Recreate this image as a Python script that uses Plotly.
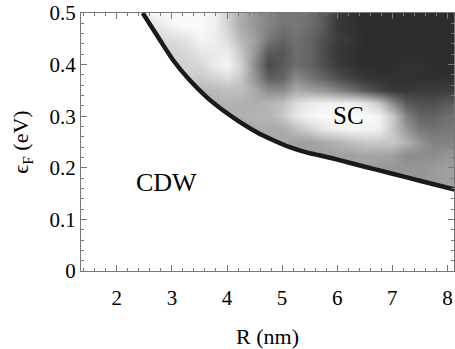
import plotly.graph_objects as go

# Grid of the grayscale map (brightness 0=black .. 255=white)
R_grid = [2.5, 2.75, 3.0, 3.25, 3.5, 3.75, 4.0, 4.25, 4.5, 4.75, 5.0, 5.25,
          5.5, 5.75, 6.0, 6.25, 6.5, 6.75, 7.0, 7.25, 7.5, 7.75, 8.0, 8.25]
eps_grid = [0.15, 0.175, 0.2, 0.225, 0.25, 0.275, 0.3, 0.325, 0.35, 0.375,
            0.4, 0.425, 0.45, 0.475, 0.5]

row_015 = [160] * 24
row_0175 = [160] * 20 + [150, 155, 160, 160]
row_020 = [160] * 17 + [150, 150, 150, 150, 155, 160, 160]
row_0225 = [160] * 14 + [160, 160, 165, 165, 160, 140, 140, 140, 150, 150]
row_025 = [170] * 11 + [160, 160, 170, 180, 190, 200, 200, 200, 180, 150, 130, 130, 135]
row_0275 = [170] * 9 + [170, 170, 190, 210, 230, 240, 245, 245, 240, 200, 150, 120, 115, 120, 120]
row_030 = [175] * 8 + [180, 180, 200, 230, 245, 250, 250, 250, 250, 245, 200, 130, 100, 100, 110, 110]
row_0325 = [175, 175, 175, 175, 175, 175, 180, 175, 175, 180, 190, 220, 235, 240,
            240, 240, 230, 200, 140, 90, 80, 80, 90, 90]
row_035 = [185, 185, 185, 185, 185, 185, 190, 190, 170, 140, 140, 170, 160, 150,
           130, 110, 90, 70, 55, 55, 60, 60, 60, 60]
row_0375 = [205, 205, 205, 205, 200, 210, 220, 200, 150, 95, 100, 140, 120, 100,
            80, 65, 55, 50, 50, 50, 48, 48, 50, 50]
row_040 = [210, 210, 210, 210, 215, 235, 245, 210, 140, 75, 90, 110, 100, 80,
           60, 50, 45, 45, 45, 50, 50, 45, 45, 45]
row_0425 = [210, 210, 210, 215, 230, 235, 235, 200, 150, 90, 85, 110, 100, 75,
            55, 50, 45, 45, 45, 45, 45, 45, 45, 45]
row_045 = [215, 215, 220, 228, 245, 240, 220, 185, 160, 120, 100, 115, 100, 80,
           60, 55, 45, 45, 45, 45, 45, 45, 45, 45]
row_0475 = [225, 230, 245, 250, 250, 240, 210, 170, 150, 130, 115, 120, 110, 90,
            55, 50, 45, 45, 45, 45, 45, 45, 45, 45]
row_050 = [240, 250, 250, 250, 250, 245, 205, 175, 150, 135, 120, 120, 110, 90,
           60, 50, 45, 45, 45, 45, 45, 45, 45, 45]

z_gray = [row_015, row_0175, row_020, row_0225, row_025, row_0275, row_030,
          row_0325, row_035, row_0375, row_040, row_0425, row_045, row_0475, row_050]

# CDW/SC phase boundary
boundary_R = [2.47, 2.78, 3.02, 3.32, 3.63, 3.92, 4.23, 4.54, 4.83, 5.14,
              5.44, 5.81, 6.04, 6.5, 6.95, 7.5, 8.13]
boundary_eps = [0.5, 0.448, 0.409, 0.370, 0.337, 0.312, 0.289, 0.269, 0.254, 0.240,
                0.230, 0.221, 0.215, 0.202, 0.19, 0.175, 0.158]

x_range = [1.35, 8.12]
y_range = [0, 0.5]
x_ticks = [2, 3, 4, 5, 6, 7, 8]
y_ticks = [0, 0.1, 0.2, 0.3, 0.4, 0.5]
y_ticklabels = ["0", "0.1", "0.2", "0.3", "0.4", "0.5"]

font_family = '"Liberation Serif", Tinos, "Times New Roman", Times, serif'

fig = go.Figure()
fig.add_trace(go.Heatmap(
    x=R_grid, y=eps_grid, z=z_gray, zmin=0, zmax=255,
    colorscale=[[0, "rgb(0,0,0)"], [1, "rgb(255,255,255)"]],
    zsmooth="best", showscale=False, hoverinfo="skip"))

# white CDW region below the boundary
fig.add_trace(go.Scatter(
    x=[x_range[0]] + boundary_R + [boundary_R[-1], x_range[0]],
    y=[boundary_eps[0]] + boundary_eps + [0, 0],
    mode="lines", line=dict(width=0),
    fill="toself", fillcolor="white", hoverinfo="skip", showlegend=False))

fig.add_trace(go.Scatter(
    x=boundary_R, y=boundary_eps, mode="lines",
    line=dict(color="#1a1a1a", width=4.5, shape="spline", smoothing=0.6),
    hoverinfo="skip", showlegend=False))

fig.add_annotation(x=2.91, y=0.171, text="CDW", showarrow=False,
                   font=dict(family=font_family, size=26, color="black"))
fig.add_annotation(x=6.2, y=0.301, text="SC", showarrow=False,
                   font=dict(family=font_family, size=25, color="black"))

axis_common = dict(showline=True, linecolor="#777", linewidth=1, mirror="ticks",
                   ticks="inside", tickcolor="#777", showgrid=False, zeroline=False,
                   automargin=False,
                   tickfont=dict(family=font_family, size=21, color="black"))

fig.update_xaxes(range=x_range, tickvals=x_ticks, ticklen=6, ticklabelstandoff=8,
                 minor=dict(dtick=0.2, ticks="inside", ticklen=3, tickcolor="#777"),
                 title=dict(text="R (nm)", font=dict(family=font_family, size=22, color="black"),
                            standoff=23),
                 **axis_common)
fig.update_yaxes(range=y_range, tickvals=y_ticks, ticktext=y_ticklabels, ticklen=6,
                 minor=dict(dtick=0.02, ticks="inside", ticklen=3, tickcolor="#777"),
                 title=dict(text="ϵ<sub>F</sub> (eV)", font=dict(family=font_family, size=22, color="black"),
                            standoff=14),
                 **axis_common)

fig.update_layout(width=455, height=349, margin=dict(l=81, r=1, t=13, b=78),
                  font=dict(family=font_family),
                  paper_bgcolor="white", plot_bgcolor="white", showlegend=False)

fig.write_html("out.html", config={"displayModeBar": False},
               post_script="document.body.style.margin='0px';"
                           "document.body.style.overflow='hidden';")
